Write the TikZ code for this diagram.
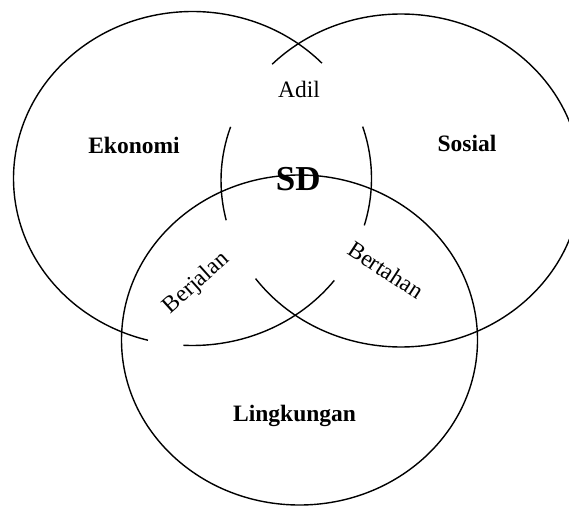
\documentclass[tikz,border=0pt]{standalone}
\usepackage{fontspec}
\setmainfont{Liberation Serif}
\begin{document}
\begin{tikzpicture}[x=1pt,y=1pt,
  ring/.style={line width=1.4pt, black},
  lbl/.style={font=\fontsize{23.5}{27}\selectfont, inner sep=0pt, anchor=base},
  blbl/.style={font=\fontsize{23.5}{27}\selectfont\bfseries, inner sep=0pt, anchor=base},
  rlbl/.style={font=\fontsize{23.5}{27}\selectfont, inner sep=0pt}]
\useasboundingbox[fill=white] (0,0) rectangle (569,506);
% centres of the three rings
\coordinate (E) at (192.5,327.5);
\coordinate (S) at (401,325.5);
\coordinate (L) at (299.5,166);
% labels
\node[blbl] (eko) at (134,352) {Ekonomi};
\node[blbl] (sos) at (467,354.3) {Sosial};
\node[blbl] (lin) at (294.6,84.3) {Lingkungan};
\node[lbl] (adil) at (299,408) {Adil};
\node[font=\fontsize{35}{40}\selectfont\bfseries, inner sep=0pt, anchor=base] (sd) at (298.3,315.3) {SD};
\node[rlbl, rotate=42] (berj) at (196.7,222.7) {Berjalan};
\node[rlbl, rotate=-33] (bert) at (386,236) {Bertahan};
% Ekonomi ring (with gaps)
\draw[ring] ([shift={(43.7:179 and 167)}]E) arc[start angle=43.7, end angle=255.6, x radius=179, y radius=167];
\draw[ring] ([shift={(267.1:179 and 167)}]E) arc[start angle=267.1, end angle=322.4, x radius=179, y radius=167];
\draw[ring] ([shift={(-16.3:179 and 167)}]E) arc[start angle=-16.3, end angle=18.1, x radius=179, y radius=167];
% Sosial ring (with gaps)
\draw[ring] ([shift={(135.7:180 and 166.5)}]S) arc[start angle=135.7, end angle=-143.9, x radius=180, y radius=166.5];
\draw[ring] ([shift={(161.2:180 and 166.5)}]S) arc[start angle=161.2, end angle=193.8, x radius=180, y radius=166.5];
% Lingkungan ring
\draw[ring] (L) ellipse[x radius=178, y radius=165];
\end{tikzpicture}
\end{document}
